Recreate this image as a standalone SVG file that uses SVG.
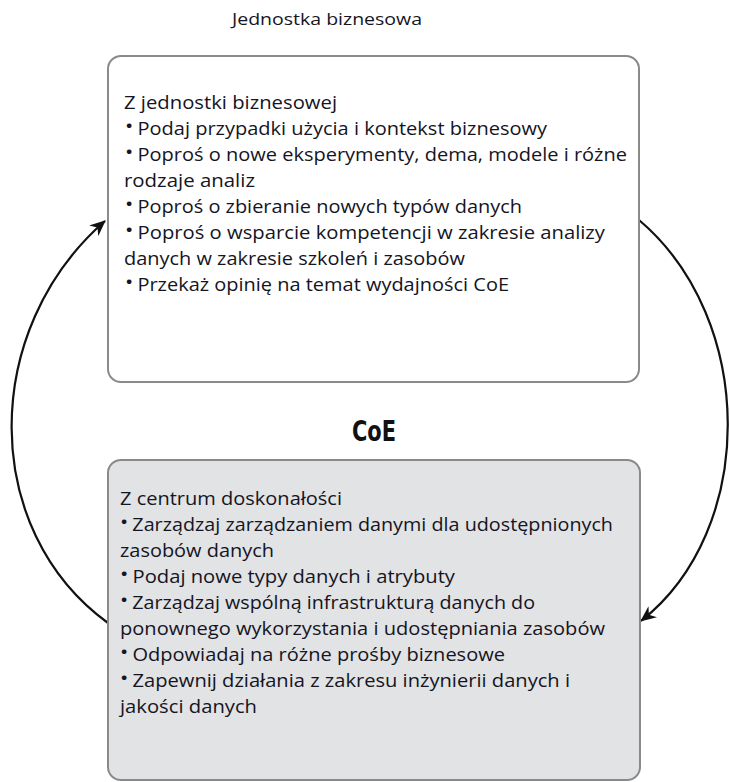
<svg xmlns="http://www.w3.org/2000/svg" width="730" height="782" viewBox="0 0 730 782">
<defs>
<style>
.t{font-family:"Open Sans","DejaVu Sans",sans-serif;font-size:18px;fill:#15151f}
.b{font-size:15px;font-weight:bold}
.box{stroke:#8a8a8a;stroke-width:2}
.conn{fill:none;stroke:#111;stroke-width:2.2}
</style>
<marker id="ah" markerWidth="18" markerHeight="14" refX="15" refY="7" orient="auto" markerUnits="userSpaceOnUse">
<path d="M0,0 L16,7 L0,14 L5,7 Z" fill="#111"/>
</marker>
</defs>
<rect width="730" height="782" fill="#fff"/>
<text class="t" x="232" y="25" style="font-size:16px" textLength="190" lengthAdjust="spacingAndGlyphs">Jednostka biznesowa</text>
<text x="374" y="441" text-anchor="middle" font-family="'DejaVu Sans Condensed','DejaVu Sans',sans-serif" font-weight="bold" font-size="28" fill="#111" textLength="44" lengthAdjust="spacingAndGlyphs">CoE</text>

<g id="connectors">
<path class="conn" d="M108,623 C-20,530 -20,330 105,221" marker-end="url(#ah)"/>
<path class="conn" d="M639,220 C757,320 757,530 641,621" marker-end="url(#ah)"/>
</g>

<g id="business">
<rect class="box" x="108" y="56" width="531" height="326" rx="13" fill="#fff"/>
<text class="t" x="124" y="109" textLength="213" lengthAdjust="spacingAndGlyphs">Z jednostki biznesowej</text>
<text class="t" x="126" y="135" textLength="421" lengthAdjust="spacingAndGlyphs"><tspan class="b" dy="-4">•</tspan><tspan dy="4"> Podaj przypadki użycia i kontekst biznesowy</tspan></text>
<text class="t" x="126" y="161" textLength="501" lengthAdjust="spacingAndGlyphs"><tspan class="b" dy="-4">•</tspan><tspan dy="4"> Poproś o nowe eksperymenty, dema, modele i różne</tspan></text>
<text class="t" x="124" y="187" textLength="131" lengthAdjust="spacingAndGlyphs">rodzaje analiz</text>
<text class="t" x="126" y="213" textLength="396" lengthAdjust="spacingAndGlyphs"><tspan class="b" dy="-4">•</tspan><tspan dy="4"> Poproś o zbieranie nowych typów danych</tspan></text>
<text class="t" x="126" y="239" textLength="479" lengthAdjust="spacingAndGlyphs"><tspan class="b" dy="-4">•</tspan><tspan dy="4"> Poproś o wsparcie kompetencji w zakresie analizy</tspan></text>
<text class="t" x="124" y="265" textLength="341" lengthAdjust="spacingAndGlyphs">danych w zakresie szkoleń i zasobów</text>
<text class="t" x="126" y="291" textLength="383" lengthAdjust="spacingAndGlyphs"><tspan class="b" dy="-4">•</tspan><tspan dy="4"> Przekaż opinię na temat wydajności CoE</tspan></text>
</g>

<g id="coe">
<rect class="box" x="108" y="460" width="532" height="320" rx="13" fill="#e2e3e5"/>
<text class="t" x="120" y="505" textLength="222" lengthAdjust="spacingAndGlyphs">Z centrum doskonałości</text>
<text class="t" x="121" y="531" textLength="492" lengthAdjust="spacingAndGlyphs"><tspan class="b" dy="-4">•</tspan><tspan dy="4"> Zarządzaj zarządzaniem danymi dla udostępnionych</tspan></text>
<text class="t" x="120" y="557" textLength="154" lengthAdjust="spacingAndGlyphs">zasobów danych</text>
<text class="t" x="121" y="583" textLength="334" lengthAdjust="spacingAndGlyphs"><tspan class="b" dy="-4">•</tspan><tspan dy="4"> Podaj nowe typy danych i atrybuty</tspan></text>
<text class="t" x="121" y="609" textLength="414" lengthAdjust="spacingAndGlyphs"><tspan class="b" dy="-4">•</tspan><tspan dy="4"> Zarządzaj wspólną infrastrukturą danych do</tspan></text>
<text class="t" x="120" y="635" textLength="485" lengthAdjust="spacingAndGlyphs">ponownego wykorzystania i udostępniania zasobów</text>
<text class="t" x="121" y="661" textLength="384" lengthAdjust="spacingAndGlyphs"><tspan class="b" dy="-4">•</tspan><tspan dy="4"> Odpowiadaj na różne prośby biznesowe</tspan></text>
<text class="t" x="121" y="687" textLength="449" lengthAdjust="spacingAndGlyphs"><tspan class="b" dy="-4">•</tspan><tspan dy="4"> Zapewnij działania z zakresu inżynierii danych i</tspan></text>
<text class="t" x="120" y="713" textLength="137" lengthAdjust="spacingAndGlyphs">jakości danych</text>
</g>
</svg>
